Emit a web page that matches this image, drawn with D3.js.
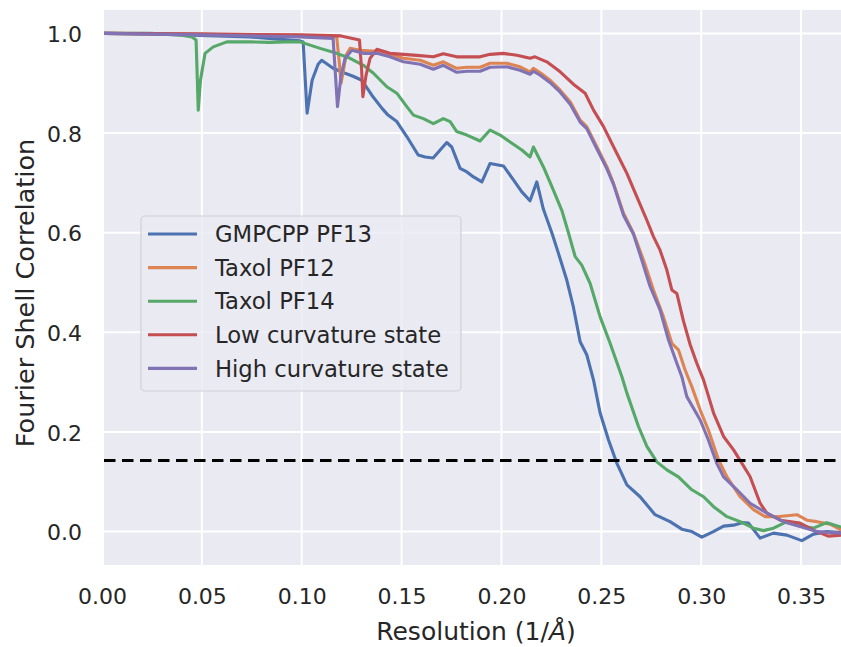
<!DOCTYPE html>
<html>
<head>
<meta charset="utf-8">
<script src="https://cdn.jsdelivr.net/npm/d3@7"></script>
<style>
    body { margin: 0; background: #fff; }
    text { font-family: "DejaVu Sans", sans-serif; fill: #262626; }
</style>
</head>
<body>
<svg id="chart" width="841" height="647"></svg>
<script>
// FSC curves, [resolution (1/Å), correlation]
const gmpcppPF13 = [
    [0.001, 1.000], [0.024, 0.999], [0.049, 0.996], [0.074, 0.993], [0.0992, 0.985],
    [0.1007, 0.983], [0.1027, 0.840], [0.1052, 0.906], [0.1082, 0.938], [0.110, 0.946],
    [0.1157, 0.930], [0.1217, 0.920], [0.1257, 0.914], [0.1301, 0.906], [0.1351, 0.876],
    [0.1401, 0.850], [0.1432, 0.836], [0.1476, 0.823], [0.1526, 0.793], [0.1583, 0.756],
    [0.1618, 0.752], [0.1658, 0.750], [0.1693, 0.766], [0.1726, 0.781], [0.1751, 0.772],
    [0.1793, 0.729], [0.1827, 0.722], [0.1860, 0.712], [0.1902, 0.702], [0.1943, 0.739],
    [0.2010, 0.734], [0.2060, 0.706], [0.2102, 0.682], [0.2143, 0.664], [0.2177, 0.702],
    [0.2210, 0.647], [0.2253, 0.599], [0.2285, 0.559], [0.2327, 0.505], [0.2360, 0.451],
    [0.2394, 0.381], [0.2427, 0.355], [0.2461, 0.304], [0.2494, 0.238], [0.2536, 0.184],
    [0.2578, 0.137], [0.2628, 0.094], [0.2694, 0.070], [0.2769, 0.034], [0.2844, 0.020],
    [0.2903, 0.005], [0.2953, 0.000], [0.3003, -0.011], [0.3061, 0.000], [0.3112, 0.011],
    [0.3162, 0.013], [0.3204, 0.018], [0.3237, 0.017], [0.3295, -0.013], [0.3362, -0.003],
    [0.3429, -0.007], [0.3504, -0.018], [0.3562, -0.005], [0.3629, 0.000], [0.3701, -0.002]
];

const taxolPF12 = [
    [0.001, 1.000], [0.049, 0.998], [0.0992, 0.996], [0.1175, 0.993], [0.1187, 0.946],
    [0.1197, 0.900], [0.1222, 0.956], [0.1242, 0.970], [0.1292, 0.966], [0.1376, 0.964],
    [0.1442, 0.958], [0.1509, 0.950], [0.1593, 0.946], [0.1659, 0.936], [0.1709, 0.943],
    [0.1776, 0.930], [0.1827, 0.932], [0.1893, 0.932], [0.1943, 0.940], [0.2027, 0.940],
    [0.2093, 0.933], [0.2143, 0.923], [0.2160, 0.930], [0.2194, 0.921], [0.2244, 0.906],
    [0.2294, 0.886], [0.2344, 0.863], [0.2394, 0.826], [0.2427, 0.813], [0.2478, 0.772],
    [0.2528, 0.732], [0.2561, 0.699], [0.2611, 0.639], [0.2661, 0.599], [0.2711, 0.545],
    [0.2761, 0.485], [0.2811, 0.431], [0.2853, 0.378], [0.2886, 0.365], [0.2920, 0.324],
    [0.2953, 0.291], [0.2995, 0.244], [0.3036, 0.204], [0.3087, 0.144], [0.3129, 0.110],
    [0.3195, 0.070], [0.3262, 0.044], [0.3320, 0.030], [0.3379, 0.030], [0.3479, 0.034],
    [0.3529, 0.023], [0.3579, 0.020], [0.3646, 0.015], [0.3701, 0.003]
];

const taxolPF14 = [
    [0.001, 1.000], [0.024, 1.000], [0.0391, 0.997], [0.0451, 0.993], [0.0471, 0.987],
    [0.0482, 0.846], [0.0493, 0.906], [0.0516, 0.960], [0.0557, 0.973], [0.0625, 0.983],
    [0.0741, 0.983], [0.0841, 0.982], [0.0917, 0.983], [0.0992, 0.983], [0.1092, 0.970],
    [0.1175, 0.960], [0.1242, 0.950], [0.1309, 0.936], [0.1359, 0.920], [0.1426, 0.893],
    [0.1476, 0.880], [0.1526, 0.853], [0.1559, 0.836], [0.1609, 0.829], [0.1659, 0.819],
    [0.1709, 0.829], [0.1743, 0.823], [0.1776, 0.803], [0.1827, 0.796], [0.1893, 0.784],
    [0.1943, 0.806], [0.1993, 0.796], [0.2043, 0.782], [0.2102, 0.766], [0.2143, 0.752],
    [0.2160, 0.772], [0.2210, 0.732], [0.2253, 0.692], [0.2302, 0.645], [0.2336, 0.599],
    [0.2369, 0.552], [0.2402, 0.535], [0.2444, 0.498], [0.2494, 0.431], [0.2544, 0.378],
    [0.2603, 0.311], [0.2628, 0.278], [0.2686, 0.211], [0.2728, 0.171], [0.2778, 0.140],
    [0.2828, 0.124], [0.2886, 0.110], [0.2953, 0.084], [0.3012, 0.070], [0.3062, 0.050],
    [0.3129, 0.030], [0.3195, 0.020], [0.3262, 0.007], [0.3312, 0.002], [0.3362, 0.007],
    [0.3429, 0.020], [0.3495, 0.011], [0.3562, 0.007], [0.3629, 0.018], [0.3701, 0.009]
];

const lowCurvature = [
    [0.001, 1.000], [0.049, 0.999], [0.0992, 0.997], [0.1197, 0.995], [0.1289, 0.987],
    [0.1300, 0.926], [0.1306, 0.873], [0.1322, 0.916], [0.1342, 0.950], [0.1376, 0.968],
    [0.1442, 0.960], [0.1509, 0.958], [0.1576, 0.956], [0.1659, 0.953], [0.1709, 0.959],
    [0.1776, 0.953], [0.1893, 0.953], [0.1943, 0.958], [0.2010, 0.960], [0.2077, 0.956],
    [0.2143, 0.950], [0.2168, 0.953], [0.2227, 0.943], [0.2294, 0.923], [0.2360, 0.898],
    [0.2419, 0.880], [0.2461, 0.846], [0.2511, 0.813], [0.2578, 0.759], [0.2628, 0.719],
    [0.2678, 0.672], [0.2728, 0.625], [0.2761, 0.592], [0.2794, 0.565], [0.2828, 0.525],
    [0.2853, 0.485], [0.2878, 0.478], [0.2911, 0.423], [0.2945, 0.375], [0.2978, 0.338],
    [0.3012, 0.304], [0.3062, 0.238], [0.3112, 0.191], [0.3162, 0.164], [0.3204, 0.137],
    [0.3245, 0.110], [0.3295, 0.057], [0.3329, 0.037], [0.3396, 0.023], [0.3495, 0.017],
    [0.3561, 0.003], [0.3636, -0.009], [0.3701, -0.007]
];

const highCurvature = [
    [0.001, 1.000], [0.049, 0.997], [0.0992, 0.993], [0.1157, 0.990], [0.1179, 0.853],
    [0.1197, 0.916], [0.1217, 0.950], [0.1251, 0.966], [0.1309, 0.960], [0.1376, 0.960],
    [0.1442, 0.953], [0.1509, 0.943], [0.1593, 0.938], [0.1659, 0.928], [0.1709, 0.936],
    [0.1776, 0.922], [0.1827, 0.924], [0.1893, 0.924], [0.1943, 0.932], [0.2027, 0.933],
    [0.2093, 0.926], [0.2143, 0.918], [0.2160, 0.924], [0.2194, 0.916], [0.2244, 0.901],
    [0.2294, 0.882], [0.2344, 0.858], [0.2394, 0.822], [0.2427, 0.809], [0.2478, 0.768],
    [0.2528, 0.728], [0.2561, 0.697], [0.2611, 0.635], [0.2661, 0.597], [0.2694, 0.556],
    [0.2744, 0.492], [0.2794, 0.445], [0.2836, 0.385], [0.2878, 0.338], [0.2903, 0.311],
    [0.2928, 0.271], [0.2995, 0.224], [0.3036, 0.184], [0.3078, 0.137], [0.3112, 0.110],
    [0.3179, 0.084], [0.3245, 0.057], [0.3329, 0.037], [0.3412, 0.020], [0.3495, 0.010],
    [0.3579, 0.000], [0.3701, -0.003]
];

const seriesNames = ["GMPCPP PF13", "Taxol PF12", "Taxol PF14", "Low curvature state", "High curvature state"];
const seriesData = [gmpcppPF13, taxolPF12, taxolPF14, lowCurvature, highCurvature];
const seriesColors = ["#4C72B0", "#DD8452", "#55A868", "#C44E52", "#8172B3"];

const xTicks = [0.00, 0.05, 0.10, 0.15, 0.20, 0.25, 0.30, 0.35];
const yTicks = [0.0, 0.2, 0.4, 0.6, 0.8, 1.0];
const threshold = 0.143;

const svg = d3.select("#chart");
const margin = { left: 104, top: 10, right: 848, bottom: 565 };

const xScale = d3.scaleLinear()
    .domain([0.001, 0.3735])
    .range([margin.left, margin.right]);

const yScale = d3.scaleLinear()
    .domain([-0.067, 1.047])
    .range([margin.bottom, margin.top]);

svg.append("defs").append("clipPath")
    .attr("id", "plot-clip")
    .append("rect")
    .attr("x", margin.left)
    .attr("y", margin.top)
    .attr("width", margin.right - margin.left)
    .attr("height", margin.bottom - margin.top);

// background
svg.append("rect")
    .attr("x", margin.left)
    .attr("y", margin.top)
    .attr("width", margin.right - margin.left)
    .attr("height", margin.bottom - margin.top)
    .attr("fill", "#EAEAF2");

// grid
const grid = svg.append("g").attr("clip-path", "url(#plot-clip)");
grid.selectAll(".vgrid")
    .data(xTicks)
    .enter().append("line")
    .attr("x1", d => xScale(d))
    .attr("x2", d => xScale(d))
    .attr("y1", margin.top)
    .attr("y2", margin.bottom)
    .attr("stroke", "#fff")
    .attr("stroke-width", 2);
grid.selectAll(".hgrid")
    .data(yTicks)
    .enter().append("line")
    .attr("x1", margin.left)
    .attr("x2", margin.right)
    .attr("y1", d => yScale(d))
    .attr("y2", d => yScale(d))
    .attr("stroke", "#fff")
    .attr("stroke-width", 2);

// axes (no tick marks, seaborn style)
const xAxis = svg.append("g")
    .attr("transform", `translate(0, ${margin.bottom})`)
    .call(d3.axisBottom(xScale).tickValues(xTicks).tickFormat(d3.format(".2f")).tickSize(0).tickPadding(0));
xAxis.select(".domain").remove();
xAxis.selectAll("text")
    .attr("y", 39)
    .attr("dy", 0)
    .style("font-size", "22px")
    .style("font-family", "DejaVu Sans")
    .attr("fill", "#262626");

const yAxis = svg.append("g")
    .attr("transform", `translate(${margin.left}, 0)`)
    .call(d3.axisLeft(yScale).tickValues(yTicks).tickFormat(d3.format(".1f")).tickSize(0));
yAxis.select(".domain").remove();
yAxis.selectAll("text")
    .attr("x", -22)
    .attr("dy", "0.37em")
    .style("font-size", "22px")
    .style("font-family", "DejaVu Sans")
    .attr("fill", "#262626");

// axis labels
const xLabel = svg.append("text")
    .attr("x", 476)
    .attr("y", 640)
    .attr("text-anchor", "middle")
    .style("font-size", "25px")
    .text("Resolution (1/");
xLabel.append("tspan").style("font-style", "italic").text("Å");
xLabel.append("tspan").text(")");

svg.append("text")
    .attr("transform", "translate(33.5, 293) rotate(-90)")
    .attr("text-anchor", "middle")
    .style("font-size", "25.5px")
    .text("Fourier Shell Correlation");

// curves
const line = d3.line()
    .x(d => xScale(d[0]))
    .y(d => yScale(d[1]));

const curves = svg.append("g").attr("clip-path", "url(#plot-clip)");
seriesData.forEach((data, i) => {
    curves.append("path")
        .datum(data)
        .attr("d", line)
        .attr("fill", "none")
        .attr("stroke", seriesColors[i])
        .attr("stroke-width", 3.1)
        .attr("stroke-linejoin", "round")
        .attr("stroke-linecap", "round");
});

// 0.143 threshold
curves.append("line")
    .attr("x1", margin.left)
    .attr("x2", margin.right)
    .attr("y1", yScale(threshold))
    .attr("y2", yScale(threshold))
    .attr("stroke", "#000")
    .attr("stroke-width", 3)
    .attr("stroke-dasharray", "11.5,6.5");

// legend
const legend = svg.append("g");
legend.append("rect")
    .attr("x", 141)
    .attr("y", 216)
    .attr("width", 320)
    .attr("height", 175)
    .attr("rx", 4)
    .attr("fill", "#EAEAF2")
    .attr("fill-opacity", 0.8)
    .attr("stroke", "#d0d0d6")
    .attr("stroke-width", 1.2);

const items = legend.selectAll(".item")
    .data(seriesNames)
    .enter().append("g")
    .attr("transform", (d, i) => `translate(0, ${234 + i * 33.6})`);
items.append("line")
    .attr("x1", 148)
    .attr("x2", 197)
    .attr("stroke", (d, i) => seriesColors[i])
    .attr("stroke-width", 3.1);
items.append("text")
    .attr("x", 215)
    .attr("dy", "0.36em")
    .style("font-size", "22.7px")
    .text(d => d);
</script>
</body>
</html>
